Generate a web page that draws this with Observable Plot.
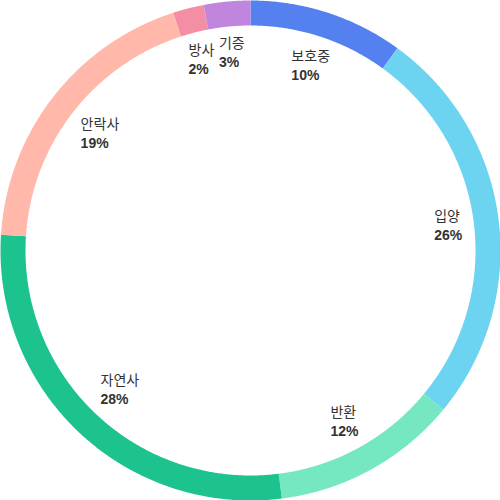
<!DOCTYPE html>
<html>
<head>
<meta charset="utf-8">
<script src="https://cdn.jsdelivr.net/npm/d3@7"></script>
<script src="https://cdn.jsdelivr.net/npm/@observablehq/plot@0.6"></script>
<style>
  html, body { margin: 0; padding: 0; background: #fff; }
  #chart { width: 500px; height: 500px; }
</style>
</head>
<body>
<div id="chart"></div>
<script>
const names = ["보호중", "입양", "반환", "자연사", "안락사", "방사", "기증"];
const values = [10, 26, 12, 28, 19, 2, 3];
const colors = ["#5480f0", "#6cd3f1", "#75e8c2", "#1dc38f", "#ffb8aa", "#f48ea5", "#c086de"];

const R_OUT = 250, R_IN = 225;
const FONT = "'Liberation Sans', 'Noto Sans CJK KR', sans-serif";

const arcs = d3.pie().sort(null).value(d => d)(values);

// ring polygons
const ringPts = [];
arcs.forEach((a, i) => {
  const n = Math.max(4, Math.ceil((a.endAngle - a.startAngle) / 0.005));
  for (let k = 0; k <= n; k++) {
    const t = a.startAngle + (a.endAngle - a.startAngle) * k / n;
    ringPts.push({name: names[i], x: R_OUT * Math.sin(t), y: -R_OUT * Math.cos(t)});
  }
  for (let k = n; k >= 0; k--) {
    const t = a.startAngle + (a.endAngle - a.startAngle) * k / n;
    ringPts.push({name: names[i], x: R_IN * Math.sin(t), y: -R_IN * Math.cos(t)});
  }
});

// label layout
const ctx = document.createElement("canvas").getContext("2d");
function tw(s, w) { ctx.font = `${w} 14px ${FONT}`; return ctx.measureText(s).width; }
const labels = arcs.map((a, i) => {
  const mid = (a.startAngle + a.endAngle) / 2;
  const pct = values[i] + "%";
  const w = Math.max(tw(names[i], "normal"), tw(pct, "bold"));
  const hw = w / 2, hh = 15;
  const sup = hw * Math.abs(Math.sin(mid)) + hh * Math.abs(Math.cos(mid));
  const r = 215 - sup;
  const cx = r * Math.sin(mid), cy = -r * Math.cos(mid);
  return {name: names[i], pct, cx, cy, hw, hh, left: cx - hw};
});
for (let i = labels.length - 1; i > 0; i--) {
  const a = labels[i - 1], b = labels[i];
  const yOver = Math.abs(a.cy - b.cy) < a.hh + b.hh;
  const xOver = (a.left + 2 * a.hw + 4) - b.left;
  if (yOver && xOver > 0 && a.left < b.left) a.left -= xOver;
}

const chart = Plot.plot({
  width: 500,
  height: 500,
  margin: 0,
  x: {domain: [-250, 250], axis: null},
  y: {domain: [-250, 250], range: [0, 500], axis: null},
  color: {domain: names, range: colors},
  style: {fontFamily: FONT, background: "#fff"},
  marks: [
    Plot.line(ringPts, {x: "x", y: "y", z: "name", fill: "name", stroke: null, curve: "linear"}),
    Plot.text(labels, {x: "left", y: "cy", text: "name", dy: -9, textAnchor: "start", lineAnchor: "middle", fontSize: 14, fill: "#333"}),
    Plot.text(labels, {x: "left", y: "cy", text: "pct", dy: 10, textAnchor: "start", lineAnchor: "middle", fontSize: 14, fontWeight: "bold", fill: "#333"})
  ]
});
document.getElementById("chart").appendChild(chart);
</script>
</body>
</html>
